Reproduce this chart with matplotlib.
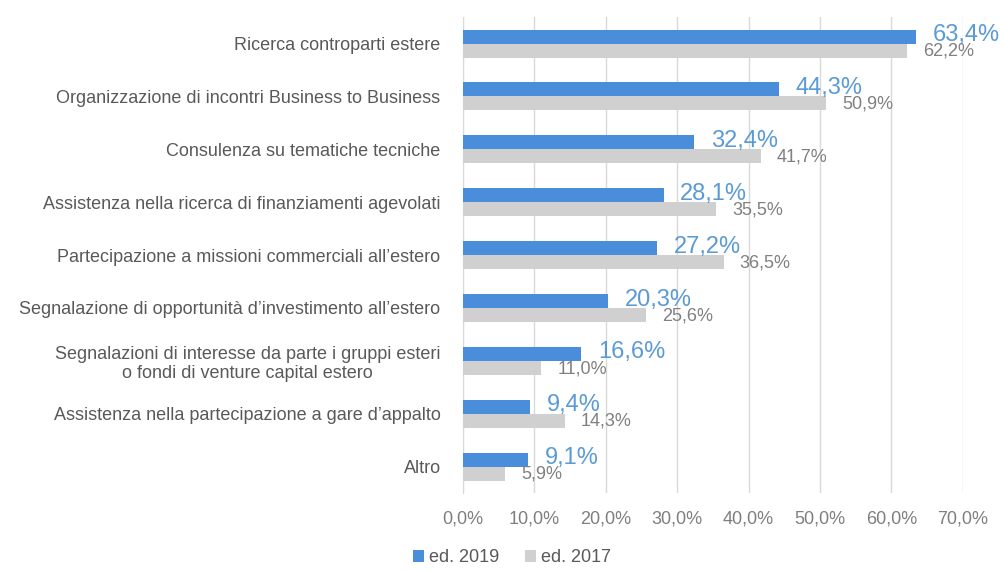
import matplotlib
matplotlib.use("Agg")
import matplotlib.pyplot as plt
import numpy as np

plt.rcParams['font.family'] = ['Liberation Sans', 'DejaVu Sans']

# servizi richiesti, dall'alto verso il basso
categorie = [
    "Ricerca controparti estere",
    "Organizzazione di incontri Business to Business",
    "Consulenza su tematiche tecniche",
    "Assistenza nella ricerca di finanziamenti agevolati",
    "Partecipazione a missioni commerciali all\u2019estero",
    "Segnalazione di opportunit\u00e0 d\u2019investimento all\u2019estero",
    "Segnalazioni di interesse da parte i gruppi esteri\no fondi di venture capital estero",
    "Assistenza nella partecipazione a gare d\u2019appalto",
    "Altro",
]
ed_2019 = [63.4, 44.3, 32.4, 28.1, 27.2, 20.3, 16.6, 9.4, 9.1]
ed_2017 = [62.2, 50.9, 41.7, 35.5, 36.5, 25.6, 11.0, 14.3, 5.9]
xticks = [0, 10, 20, 30, 40, 50, 60, 70]

BLU = "#4a8ddb"
GRIGIO = "#d0d0d0"

def pct(v):
    return ("%.1f%%" % v).replace(".", ",")

fig = plt.figure(figsize=(10.04, 5.70), dpi=100)
ax = fig.add_axes([0.461, 0.135, 0.498, 0.835])

y = np.arange(len(categorie))
h = 0.264
b1 = ax.barh(y - h / 2, ed_2019, height=h, color=BLU, label="ed. 2019", zorder=3)
b2 = ax.barh(y + h / 2, ed_2017, height=h, color=GRIGIO, label="ed. 2017", zorder=3)

for v, yy in zip(ed_2019, y - h / 2):
    ax.annotate(pct(v), (v, yy), xytext=(12, 1), textcoords="offset points",
                ha="left", va="center", fontsize=17, color="#5b9bd5", zorder=4)
for v, yy in zip(ed_2017, y + h / 2):
    ax.annotate(pct(v), (v, yy), xytext=(11.5, -0.5), textcoords="offset points",
                ha="left", va="center", fontsize=13, color="#808080", zorder=4)

ax.set_xlim(0, 70)
ax.set_ylim(len(categorie) - 0.5, -0.5)
ax.set_xticks(xticks)
ax.set_xticklabels([pct(t) for t in xticks], fontsize=13, color="#7f7f7f")
ax.set_yticks(y)
ax.set_yticklabels(categorie, fontsize=13, color="#595959", ha="right",
                   multialignment="center")
ax.tick_params(axis="y", length=0, pad=16)
ax.tick_params(axis="x", length=0, pad=12.5)

ax.grid(axis="x", color="#d9d9d9", linewidth=1, zorder=0)
for s in ["top", "right", "bottom"]:
    ax.spines[s].set_visible(False)
ax.spines["left"].set_color("#d9d9d9")
ax.spines["left"].set_zorder(1)

fig.legend(handles=[b1, b2], loc="lower center", bbox_to_anchor=(0.51, -0.022),
           ncol=2, frameon=False, fontsize=13, handlelength=0.6, handleheight=0.6,
           handletextpad=0.3, columnspacing=1.4, labelcolor="#595959")

fig.savefig("out.png", dpi=100)
